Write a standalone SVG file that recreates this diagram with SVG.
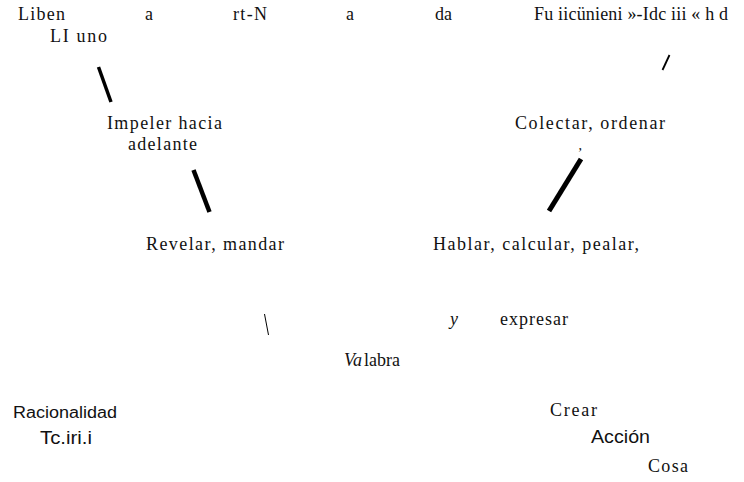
<svg xmlns="http://www.w3.org/2000/svg" width="744" height="482" viewBox="0 0 744 482">
<style>
.s{font-family:"Liberation Serif","Times New Roman",serif;font-size:18px;fill:#111}
.i{font-style:italic}
.a{font-family:"Liberation Sans",Arial,sans-serif;fill:#111}
.c{stroke:#000;stroke-linecap:butt;fill:none}
</style>
<rect width="744" height="482" fill="#fff"/>
<g id="connectors">
<line class="c" x1="98.5" y1="67" x2="111" y2="102" stroke-width="3.5"/>
<line class="c" x1="669.5" y1="55" x2="662.5" y2="70" stroke-width="1.8"/>
<line class="c" x1="193.5" y1="170" x2="209.5" y2="212" stroke-width="4.5"/>
<line class="c" x1="581" y1="159" x2="549" y2="211" stroke-width="5"/>
<line class="c" x1="264.5" y1="314" x2="268.5" y2="335" stroke-width="1"/>
</g>
<g id="n-top">
<text class="s" x="18" y="20" textLength="47" lengthAdjust="spacing">Liben</text>
<text class="s" x="145" y="20">a</text>
<text class="s" x="233" y="20" textLength="34" lengthAdjust="spacing">rt-N</text>
<text class="s" x="346" y="20">a</text>
<text class="s" x="435" y="20" textLength="17" lengthAdjust="spacing">da</text>
<text class="s" x="534" y="20" textLength="194" lengthAdjust="spacing">Fu iicünieni »-Idc iii « h d</text>
</g>
<g id="n-uno">
<text class="s" x="50" y="42" textLength="57" lengthAdjust="spacing">LI uno</text>
</g>
<g id="n-impeler">
<text class="s" x="107" y="129" textLength="115" lengthAdjust="spacing">Impeler hacia</text>
<text class="s" x="128" y="150" textLength="69" lengthAdjust="spacing">adelante</text>
</g>
<g id="n-colectar">
<text class="s" x="515" y="129" textLength="150" lengthAdjust="spacing">Colectar, ordenar</text>
<text class="s" x="578.5" y="150" style="font-size:14px">,</text>
</g>
<g id="n-revelar">
<text class="s" x="146" y="250" textLength="138" lengthAdjust="spacing">Revelar, mandar</text>
</g>
<g id="n-hablar">
<text class="s" x="433" y="250" textLength="206" lengthAdjust="spacing">Hablar, calcular, pealar,</text>
</g>
<g id="n-expresar">
<text class="s i" x="450" y="325">y</text>
<text class="s" x="500" y="325" textLength="68" lengthAdjust="spacing">expresar</text>
</g>
<g id="n-palabra">
<text class="s" x="344" y="366"><tspan class="i">Va</tspan><tspan dx="2">labra</tspan></text>
</g>
<g id="n-racionalidad">
<text class="a" x="13" y="418" style="font-size:16px" textLength="104" lengthAdjust="spacingAndGlyphs">Racionalidad</text>
<text class="a" x="40" y="444" style="font-size:19px" textLength="52" lengthAdjust="spacingAndGlyphs">Tc.iri.i</text>
</g>
<g id="n-accion">
<text class="s" x="550" y="416" textLength="47" lengthAdjust="spacing">Crear</text>
<text class="a" x="591" y="443" style="font-size:19px" textLength="59" lengthAdjust="spacingAndGlyphs">Acción</text>
<text class="s" x="648" y="472" textLength="40" lengthAdjust="spacing">Cosa</text>
</g>
</svg>
